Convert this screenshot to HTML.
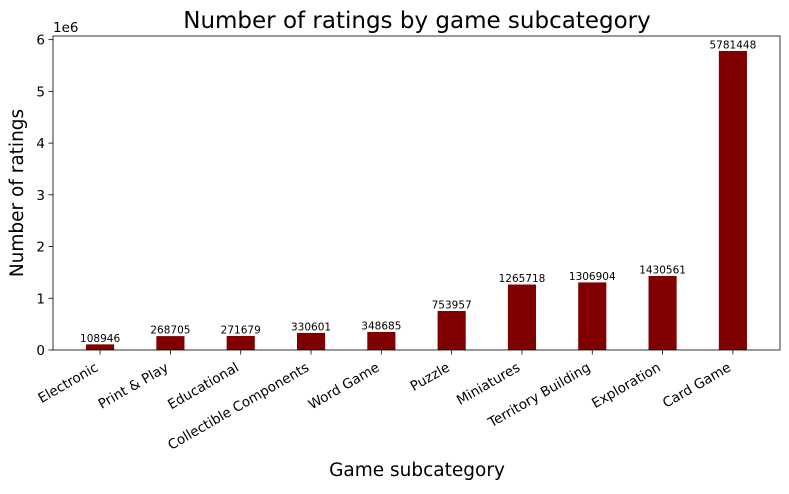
<!DOCTYPE html>
<html><head><meta charset="utf-8"><style>
body{margin:0;background:#fff;font-family:"Liberation Sans","DejaVu Sans",sans-serif}
</style></head><body>
<svg id="chart" width="789" height="489" xmlns="http://www.w3.org/2000/svg" font-family="DejaVu Sans, Liberation Sans, sans-serif">
<rect width="789" height="489" fill="#fff"/>
<text x="417" y="28" font-size="23" text-anchor="middle">Number of ratings by game subcategory</text>
<text x="417" y="476" font-size="18.5" text-anchor="middle">Game subcategory</text>
<text transform="translate(23,193) rotate(-90)" font-size="18.5" text-anchor="middle">Number of ratings</text>
<text x="53" y="32" font-size="13.5">1e6</text>
<g id="plot"></g>
</svg>
<script>
const categories=["Electronic","Print & Play","Educational","Collectible Components","Word Game","Puzzle","Miniatures","Territory Building","Exploration","Card Game"];
const values=[108946,268705,271679,330601,348685,753957,1265718,1306904,1430561,5781448];
const yTicks=[0,1,2,3,4,5,6];
const L=53,R=780,T=36,B=350;
const ns="http://www.w3.org/2000/svg";
const g=document.getElementById('plot');
const xmin=-0.67,xmax=categories.length-1+0.67;
function x(i){return L+(i-xmin)/(xmax-xmin)*(R-L);}
const ymax=Math.max(...values)*1.05;
function y(v){return B-v/ymax*(B-T);}
const bw=0.4*(R-L)/(xmax-xmin);
function el(t,a){const e=document.createElementNS(ns,t);for(const k in a)e.setAttribute(k,a[k]);g.appendChild(e);return e;}
values.forEach((v,i)=>{
 const r=el('rect',{x:x(i)-bw/2,y:y(v),width:bw,height:B-y(v),fill:'#800000'});
 
 
 const t=el('text',{x:x(i),y:y(v)-2.5,'font-size':10.5,'text-anchor':'middle'});t.textContent=v;
 
 
 el('line',{x1:x(i),x2:x(i),y1:B,y2:B+4.5,stroke:'#000','stroke-width':0.8});
 const c=el('text',{transform:`translate(${x(i)-1},${B+20}) rotate(-30)`,'font-size':13.5,'text-anchor':'end'});c.textContent=categories[i];
 
 
});
yTicks.forEach(t=>{
 const yy=y(t*1e6);
 el('line',{x1:L-4.5,x2:L,y1:yy,y2:yy,stroke:'#000','stroke-width':0.8});
 const tx=el('text',{x:L-8,y:yy+5,'font-size':13.5,'text-anchor':'end'});tx.textContent=t;
 
 
});
const f=el('rect',{x:L,y:T,width:R-L,height:B-T,fill:'none',stroke:'#000','stroke-width':0.8});


</script>
</body></html>
